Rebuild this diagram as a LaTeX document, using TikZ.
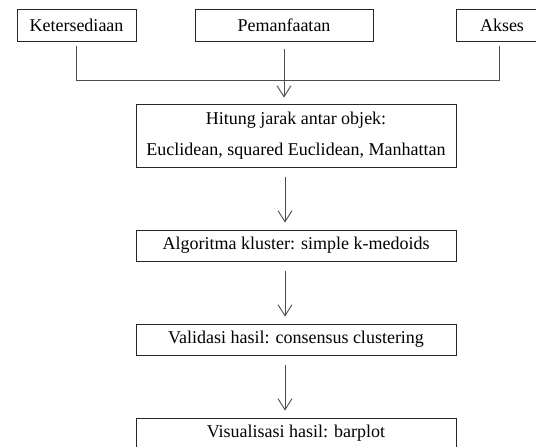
\documentclass[tikz,border=0pt]{standalone}
\usepackage{fontspec}
\setmainfont{Liberation Serif}
\usetikzlibrary{arrows.meta}

\begin{document}
\begin{tikzpicture}[x=1pt, y=-1pt, font=\fontsize{18}{31}\selectfont,
    box/.style={draw=black!85, line width=0.9pt, inner sep=0pt, align=center},
    flow/.style={draw=black!70, line width=0.9pt},
    step arrow/.style={flow, -{Straight Barb[length=11pt, width=14pt]}, shorten <=10pt, shorten >=7pt}]
    \useasboundingbox (0,0) rectangle (536,447);

    % sumber data
    \node(ket) [box, minimum width=119pt, minimum height=32pt] at (76.5,25) {Ketersediaan};
    \node(pem) [box, minimum width=178pt, minimum height=32pt] at (284,25)  {Pemanfaatan};
    \node(aks) [box, minimum width=92pt,  minimum height=32pt] at (502,25)  {Akses};

    % tahapan
    \node(jarak)  [box, minimum width=320pt, minimum height=63pt] at (296,135.5) {Hitung jarak antar objek:\\Euclidean, squared Euclidean, Manhattan};
    \node(algo)   [box, minimum width=320pt, minimum height=31pt] at (296,245.5) {Algoritma kluster: simple k-medoids};
    \node(valid)  [box, minimum width=320pt, minimum height=31pt] at (296,339.5) {Validasi hasil: consensus clustering};
    \node(visual) [box, minimum width=320pt, minimum height=31pt] at (296,433.5) {Visualisasi hasil: barplot};

    %%%%% Garis %%%%%
    \draw[flow] ([yshift=-5pt]ket.south) -- ([yshift=-39pt]ket.south) -| ([xshift=-3pt, yshift=-5pt]aks.south);
    \draw[step arrow, shorten <=8pt, shorten >=6pt] (pem.south) -- (pem.south |- jarak.north);

    \draw[step arrow] ([xshift=-11pt]jarak.south) -- ([xshift=-11pt]algo.north);
    \draw[step arrow] ([xshift=-11pt]algo.south)  -- ([xshift=-11pt]valid.north);
    \draw[step arrow] ([xshift=-11pt]valid.south) -- ([xshift=-11pt]visual.north);

\end{tikzpicture}
\end{document}
